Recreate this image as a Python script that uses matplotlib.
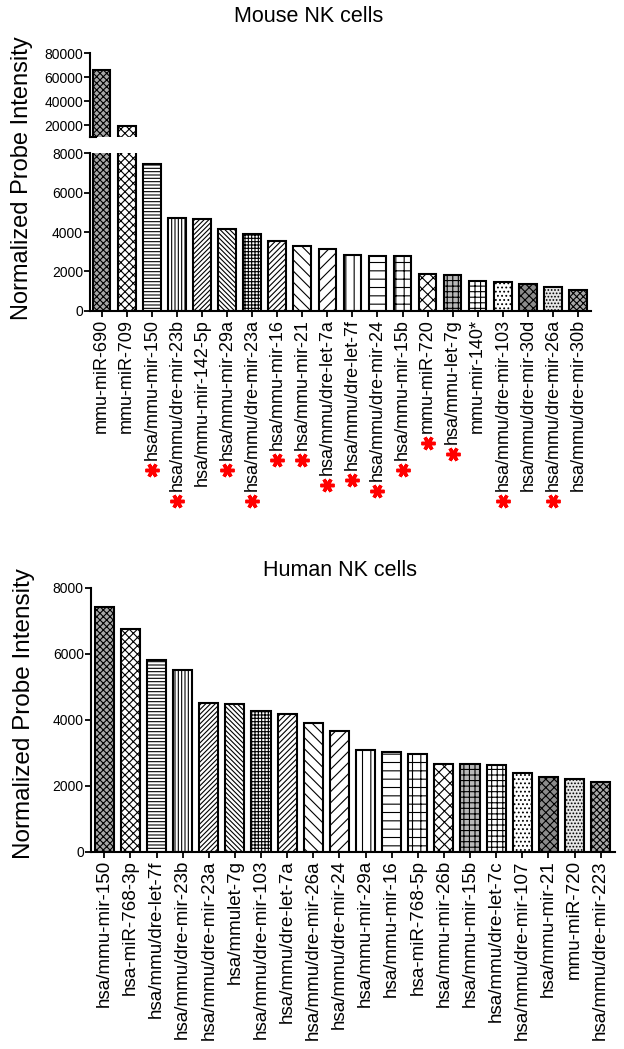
import matplotlib
matplotlib.use("Agg")
import matplotlib.pyplot as plt
import numpy as np

plt.rcParams['font.family'] = ['Liberation Sans', 'DejaVu Sans']
plt.rcParams['hatch.linewidth'] = 0.8

# mouse NK cells
mouse_labels = ["mmu-miR-690", "mmu-miR-709", "hsa/mmu-mir-150", "hsa/mmu/dre-mir-23b",
                "hsa/mmu-mir-142-5p", "hsa/mmu-mir-29a", "hsa/mmu/dre-mir-23a", "hsa/mmu-mir-16",
                "hsa/mmu-mir-21", "hsa/mmu/dre-let-7a", "hsa/mmu/dre-let-7f", "hsa/mmu/dre-mir-24",
                "hsa/mmu-mir-15b", "mmu-miR-720", "hsa/mmu-let-7g", "mmu-mir-140*",
                "hsa/mmu/dre-mir-103", "hsa/mmu/dre-mir-30d", "hsa/mmu/dre-mir-26a", "hsa/mmu/dre-mir-30b"]
mouse_values = [66000, 19500, 7450, 4730, 4660, 4140, 3880, 3545, 3290, 3135,
                2815, 2780, 2765, 1860, 1800, 1495, 1445, 1340, 1220, 1050]
# labels marked with a red asterisk
mouse_starred = [False, False, True, True, False, True, True, True, True, True,
                 True, True, True, True, True, False, True, False, True, False]

# human NK cells
human_labels = ["hsa/mmu-mir-150", "hsa-miR-768-3p", "hsa/mmu/dre-let-7f", "hsa/mmu/dre-mir-23b",
                "hsa/mmu/dre-mir-23a", "hsa/mmulet-7g", "hsa/mmu/dre-mir-103", "hsa/mmu/dre-let-7a",
                "hsa/mmu/dre-mir-26a", "hsa/mmu/dre-mir-24", "hsa/mmu-mir-29a", "hsa/mmu-mir-16",
                "hsa-miR-768-5p", "hsa/mmu-mir-26b", "hsa/mmu-mir-15b", "hsa/mmu/dre-let-7c",
                "hsa/mmu/dre-mir-107", "hsa/mmu-mir-21", "mmu-miR-720", "hsa/mmu/dre-mir-223"]
human_values = [7420, 6750, 5810, 5500, 4500, 4470, 4275, 4180, 3900, 3665,
                3080, 3020, 2960, 2660, 2660, 2635, 2385, 2255, 2210, 2120]

# bar fill patterns, same order in both panels
faces = ['#a8a8a8', 'white', 'white', 'white', 'white', 'white', 'white', 'white', 'white', 'white',
         'white', 'white', 'white', 'white', '#b8b8b8', 'white', 'white', '#8c8c8c', '#e6e6e6', '#a8a8a8']
hatches = ['xxxxx', 'xxxx', '-----', '|||||', '///////', '\\' * 7, '+++++', '//////', '\\' * 3, '///',
           '||', '--', '++', 'xxx', '+++', '+++', '....', 'xxxx', '.....', 'xxxxx']

W, H = 624, 1049
fig = plt.figure(figsize=(W / 100, H / 100), dpi=100)


def box(left, top, right, bottom):
    return [left / W, 1 - bottom / H, (right - left) / W, (bottom - top) / H]


def style(ax, xsize):
    for s in ['top', 'right']:
        ax.spines[s].set_visible(False)
    for s in ['left', 'bottom']:
        ax.spines[s].set_linewidth(1.5)
    ax.tick_params(axis='y', direction='out', length=4, width=1.3, labelsize=10, pad=1)
    ax.tick_params(axis='x', direction='out', length=4, width=1.3, labelsize=xsize, pad=2)


def draw_bars(ax, values, width):
    x = np.arange(len(values))
    bars = ax.bar(x, values, width=width, color=faces, edgecolor='black', linewidth=1.5)
    for b, h in zip(bars, hatches):
        b.set_hatch(h)
    return x


# --- mouse panel: broken y axis ---
ax_hi = fig.add_axes(box(90, 53.3, 590.7, 137))
ax_lo = fig.add_axes(box(90, 153.3, 590.7, 310.7))

draw_bars(ax_hi, mouse_values, 0.70)
x = draw_bars(ax_lo, mouse_values, 0.70)

for ax in (ax_hi, ax_lo):
    style(ax, 13)
    ax.set_xlim(-0.467, 19.507)

ax_hi.set_ylim(10000, 80000)
ax_hi.set_yticks([20000, 40000, 60000, 80000])
ax_hi.spines['bottom'].set_visible(False)
ax_hi.set_xticks([])
ax_hi.plot([0, 0.012], [0, 0], transform=ax_hi.transAxes, color='black', lw=1.5, clip_on=False)

ax_lo.set_ylim(0, 8000)
ax_lo.set_yticks([0, 2000, 4000, 6000, 8000])
ax_lo.set_xticks(x)
ax_lo.set_xticklabels(mouse_labels, rotation=90)

fig.text(309 / W, 1 - 17 / H, "Mouse NK cells", ha='center', va='center', fontsize=15.5)
fig.text(28 / W, 1 - 178 / H, "Normalized Probe Intensity", rotation=90, rotation_mode='anchor',
         ha='center', va='baseline', fontsize=17)

# --- human panel ---
ax_h = fig.add_axes(box(90.7, 587.7, 615, 851.7))
xh = draw_bars(ax_h, human_values, 0.73)
style(ax_h, 13.5)
ax_h.set_xlim(-0.52, 19.55)
ax_h.set_ylim(0, 8000)
ax_h.set_yticks([0, 2000, 4000, 6000, 8000])
ax_h.set_xticks(xh)
ax_h.set_xticklabels(human_labels, rotation=90)

fig.text(340 / W, 1 - 570 / H, "Human NK cells", ha='center', va='center', fontsize=15.5)
fig.text(30 / W, 1 - 714 / H, "Normalized Probe Intensity", rotation=90, rotation_mode='anchor',
         ha='center', va='baseline', fontsize=17.5)

# red asterisks just below the flagged mouse labels
fig.canvas.draw()
inv = ax_lo.transAxes.inverted()
for xi, lbl, star in zip(x, ax_lo.get_xticklabels(), mouse_starred):
    if not star:
        continue
    bb = lbl.get_window_extent()
    yax = inv.transform((0, bb.y0 - 10))[1]
    ax_lo.plot([xi], [yax], transform=ax_lo.get_xaxis_transform(), marker=(6, 2, 90),
               markersize=10, markeredgewidth=2.5, color='red', clip_on=False)

fig.savefig("out.png", dpi=100)
